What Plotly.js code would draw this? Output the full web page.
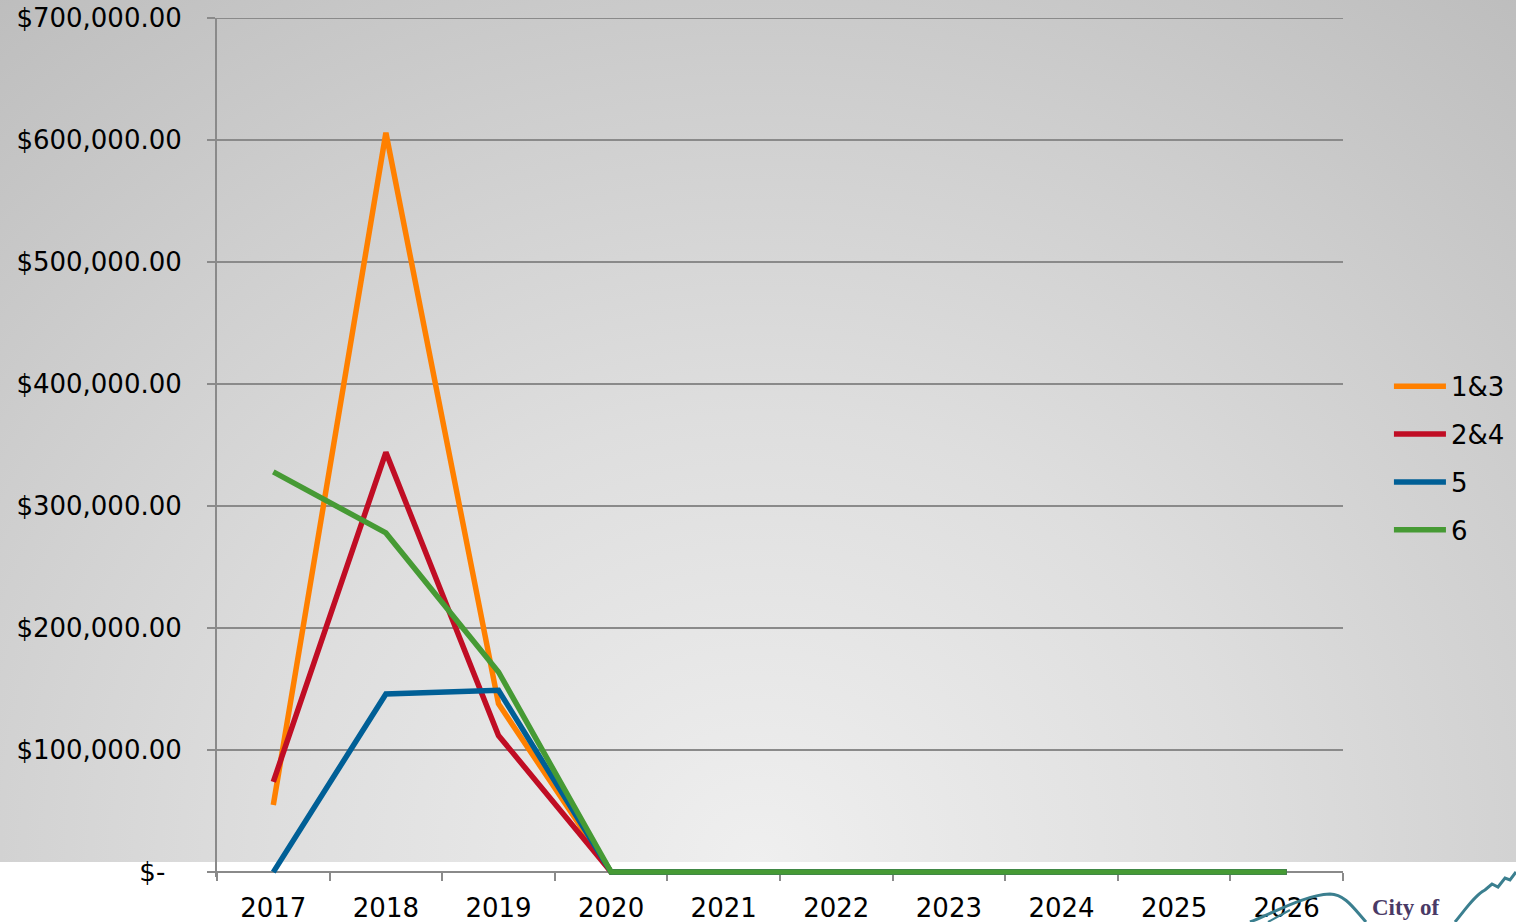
<!DOCTYPE html>
<html>
<head>
<meta charset="utf-8">
<script src="https://cdn.plot.ly/plotly-3.0.1.min.js"></script>
<style>
  html, body { margin: 0; padding: 0; background: #ffffff; }
  #wrap { position: relative; width: 1516px; height: 922px; overflow: hidden; background: #ffffff; }
  #bg { position: absolute; left: 0; top: 0; width: 1516px; height: 862px;
        background: radial-gradient(ellipse 80% 130% at 50% 100%, #efefef 0%, #dedede 40%, #cecece 70%, #bdbdbd 100%); }
  #chart { position: absolute; left: 0; top: 0; width: 1516px; height: 922px; }
  #logo { position: absolute; left: 0; top: 0; width: 1516px; height: 922px; pointer-events: none; }
</style>
</head>
<body>
<div id="wrap">
  <div id="bg"></div>
  <div id="chart"></div>
  <svg id="logo" width="1516" height="922">
    <path d="M1250,922 C1275,912 1305,895 1330,894 C1345,894 1355,910 1366,922" fill="none" stroke="#3b7f8f" stroke-width="3"/>
    <path d="M1268,922 L1290,910" fill="none" stroke="#3b7f8f" stroke-width="2"/>
    <path d="M1455,922 C1465,910 1475,895 1485,890 L1492,884 L1498,887 L1505,878 L1510,880 L1516,872" fill="none" stroke="#3b7f8f" stroke-width="3"/>
    <text x="1372" y="915" font-family="Liberation Serif, DejaVu Serif, serif" font-weight="bold" font-size="23" fill="#4a3a66">City of</text>
  </svg>
</div>
<script>
const years = ['2017','2018','2019','2020','2021','2022','2023','2024','2025','2026'];
const s13 = [55000, 606000, 138000, 0, 0, 0, 0, 0, 0, 0];
const s24 = [74000, 344000, 112000, 0, 0, 0, 0, 0, 0, 0];
const s5  = [0, 146000, 149000, 0, 0, 0, 0, 0, 0, 0];
const s6  = [328000, 278000, 164000, 0, 0, 0, 0, 0, 0, 0];
const seriesNames = ['1&3', '2&4', '5', '6'];
const seriesColors = ['#FF8000', '#C00D24', '#005F96', '#469A34'];
const yTickVals = [0, 100000, 200000, 300000, 400000, 500000, 600000, 700000];
const yTickText = ['$-\u00a0\u00a0', '$100,000.00', '$200,000.00', '$300,000.00', '$400,000.00', '$500,000.00', '$600,000.00', '$700,000.00'];
const yMax = 700000;
const yPadBelow = 4000;   // small room below zero so the flat lines are not clipped

const allSeries = [s13, s24, s5, s6];
const traces = allSeries.map((vals, i) => ({
  type: 'scatter',
  mode: 'lines',
  x: years,
  y: vals,
  name: seriesNames[i],
  legendgroup: 'g' + i,
  line: { color: seriesColors[i], width: 5.5 },
  cliponaxis: false,
  hoverinfo: 'x+y+name'
}));

const layout = {
  width: 1516,
  height: 922,
  paper_bgcolor: 'rgba(0,0,0,0)',
  plot_bgcolor: 'rgba(0,0,0,0)',
  margin: { l: 217, r: 173, t: 18, b: 45, pad: 0, autoexpand: false },
  font: { family: 'DejaVu Sans, Verdana, sans-serif', size: 26, color: '#000000' },
  showlegend: true,
  legend: {
    x: 1.0408, y: 0.4873, xanchor: 'left', yanchor: 'middle',
    bgcolor: 'rgba(0,0,0,0)',
    font: { size: 26, color: '#000000' },
    tracegroupgap: 11,
    itemwidth: 52
  },
  shapes: [{
    type: 'line', xref: 'paper', yref: 'y',
    x0: -8 / 1126, x1: 1, y0: yMax, y1: yMax,
    line: { color: '#8a8a8a', width: 2 },
    layer: 'below'
  }],
  xaxis: {
    type: 'category',
    categoryorder: 'array',
    categoryarray: years,
    range: [-0.5, 9.5],
    anchor: 'free',
    position: yPadBelow / (yMax + yPadBelow),
    tickson: 'boundaries',
    ticks: 'outside',
    ticklen: 8,
    tickwidth: 2,
    tickcolor: '#8a8a8a',
    showline: true,
    linecolor: '#8a8a8a',
    linewidth: 2,
    showgrid: false,
    zeroline: false,
    layer: 'below traces',
    ticklabelstandoff: 13,
    tickfont: { size: 26, color: '#000000' }
  },
  yaxis: {
    range: [-yPadBelow, yMax],
    tickvals: yTickVals,
    ticktext: yTickText,
    ticks: 'outside',
    ticklen: 8,
    tickwidth: 2,
    tickcolor: '#8a8a8a',
    showline: true,
    linecolor: '#8a8a8a',
    linewidth: 2,
    showgrid: true,
    gridcolor: '#8a8a8a',
    gridwidth: 2,
    zeroline: false,
    layer: 'below traces',
    ticklabelstandoff: 20,
    tickfont: { size: 26, color: '#000000' }
  }
};

Plotly.newPlot('chart', traces, layout, { displayModeBar: false, responsive: false });
</script>
</body>
</html>
